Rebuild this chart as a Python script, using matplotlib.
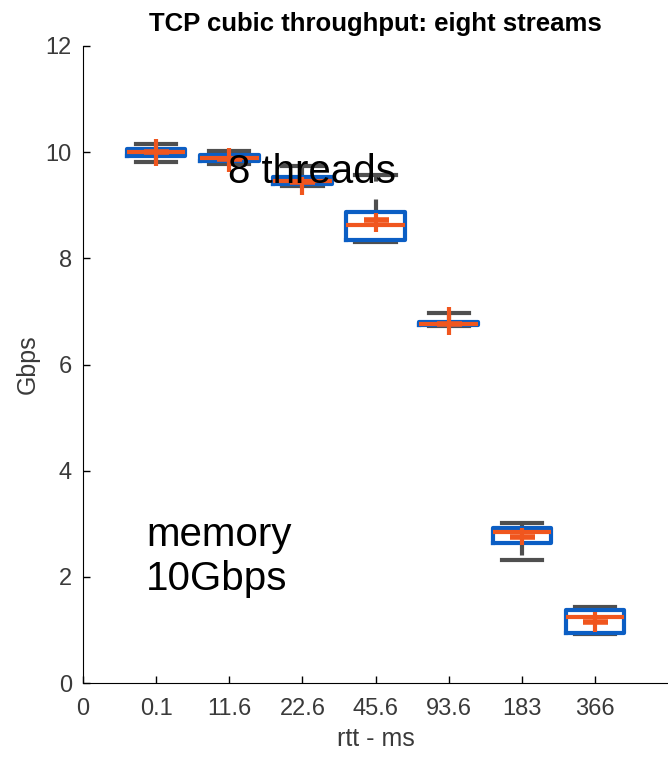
import matplotlib
matplotlib.use("Agg")
import matplotlib.pyplot as plt
import numpy as np

# rtt categories (x tick labels) and box statistics (Gbps)
rtt_labels = ['0', '0.1', '11.6', '22.6', '45.6', '93.6', '183', '366']
q1 = [9.93, 9.83, 9.40, 8.35, 6.74, 2.64, 0.94]
q3 = [10.06, 9.95, 9.53, 8.87, 6.80, 2.92, 1.375]
medians = [10.01, 9.89, 9.45, 8.63, 6.77, 2.84, 1.24]
whisker_lo = [9.82, 9.78, 9.36, 8.31, 6.72, 2.32, 0.92]
whisker_hi = [10.15, 10.02, 9.74, 9.57, 6.97, 3.01, 1.43]
means = [10.00, 9.87, 9.43, 8.72, 6.76, 2.75, 1.15]
err_lo = [9.74, 9.63, 9.20, 8.50, 6.56, 2.60, 0.96]
err_hi = [10.25, 10.08, 9.53, 8.85, 7.08, 2.92, 1.34]

blue = '#0b5ec4'
orange = '#f0561e'
grey = '#4f4f4f'
narrow = ['Liberation Sans Narrow', 'Liberation Sans', 'DejaVu Sans']

fig = plt.figure(figsize=(6.68, 7.59), dpi=100)
ax = fig.add_axes([0.1243, 0.1001, 0.8757, 0.8393])

positions = np.arange(1, len(medians) + 1)
stats = []
for i in range(len(medians)):
    stats.append(dict(med=medians[i], q1=q1[i], q3=q3[i],
                      whislo=whisker_lo[i], whishi=whisker_hi[i], fliers=[]))

ax.bxp(stats, positions=positions, widths=0.8, capwidths=0.55, showfliers=False,
       boxprops=dict(color=blue, linewidth=3, zorder=3),
       whiskerprops=dict(color=grey, linewidth=3, linestyle=(0, (3, 4.3)), zorder=2),
       capprops=dict(color=grey, linewidth=3, zorder=2),
       medianprops=dict(color=orange, linewidth=3, zorder=4))

# mean +/- spread overlay
means = np.array(means)
ax.errorbar(positions, means,
            yerr=[means - np.array(err_lo), np.array(err_hi) - means],
            fmt='_', color=orange, ecolor=orange, elinewidth=3, capsize=0,
            markersize=18, markeredgewidth=4, zorder=5)

ax.set_xlim(0, 8)
ax.set_ylim(0, 12)
ax.set_xticks(range(len(rtt_labels)))
ax.set_xticklabels(rtt_labels)
ax.set_yticks(range(0, 13, 2))
for lab in ax.get_xticklabels() + ax.get_yticklabels():
    lab.set_family(narrow)
    lab.set_fontsize(17)
    lab.set_color('#3a3a3a')
ax.tick_params(direction='in', length=5, width=1)
ax.tick_params(axis='x', pad=11)
ax.tick_params(axis='y', pad=8)
ax.spines['top'].set_visible(False)
ax.spines['right'].set_visible(False)

ax.set_xlabel('rtt - ms', family=narrow, fontsize=18, color='#3a3a3a', labelpad=5)
ax.set_ylabel('Gbps', family=narrow, fontsize=18, color='#3a3a3a', labelpad=4)
ax.set_title('TCP cubic throughput: eight streams', family=narrow,
             fontweight='bold', fontsize=18.5, pad=11)

ax.text(1.98, 9.42, '8 threads', fontsize=29, family='Liberation Sans',
        ha='left', va='baseline', zorder=6)
ax.text(0.86, 2.37, 'memory\n10Gbps', fontsize=29, family='Liberation Sans',
        ha='left', va='center', linespacing=1.2, zorder=6)

fig.savefig('out.png', dpi=100)
